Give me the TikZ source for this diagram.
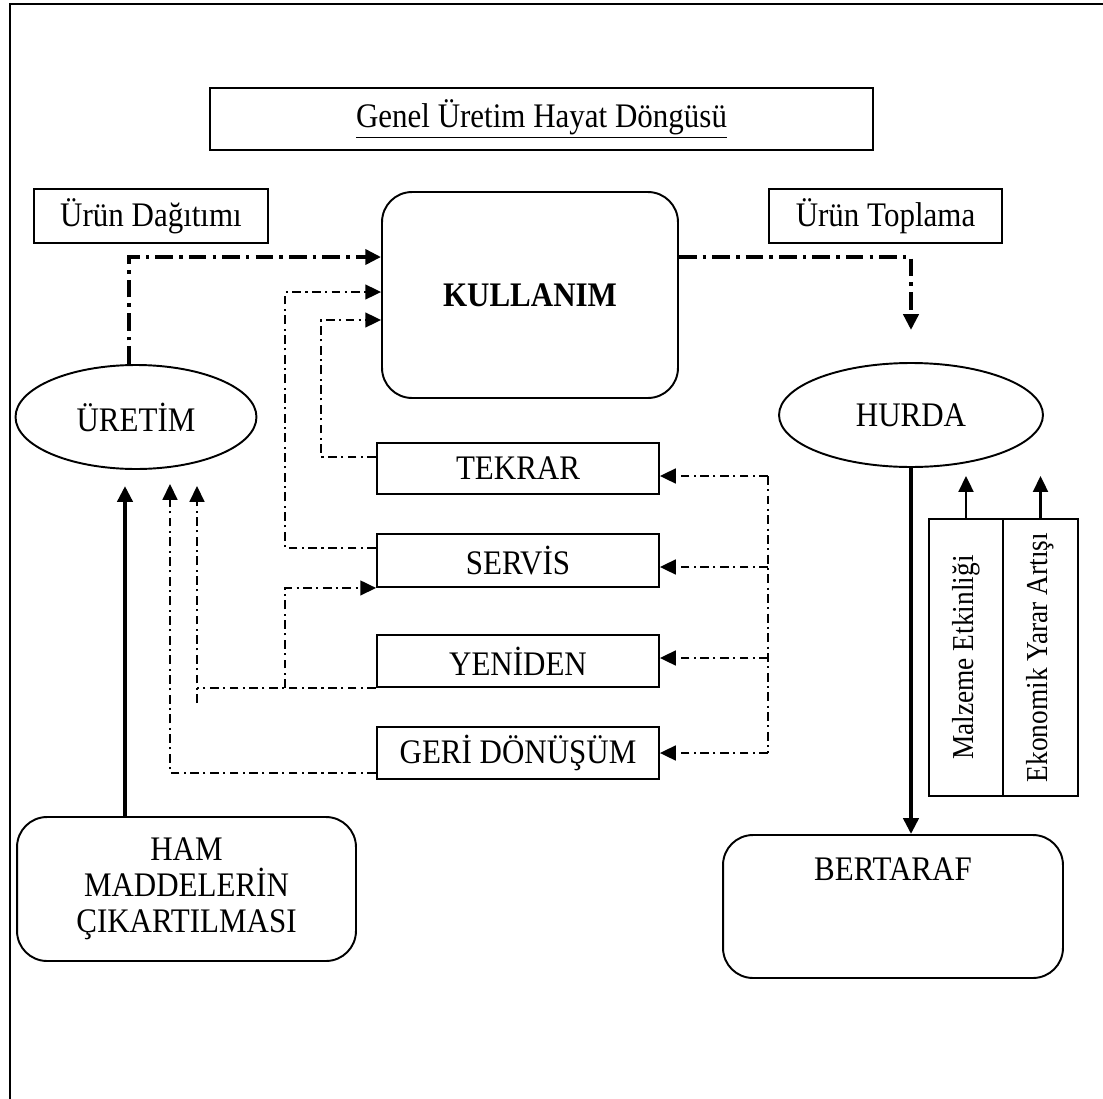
\documentclass[tikz,border=0pt]{standalone}
\usepackage{fontspec}
\setmainfont{Liberation Serif}[FakeStretch=0.9]
\usetikzlibrary{arrows.meta,shapes.geometric}
\newcommand{\diafont}{\fontsize{19.6pt}{20.5pt}\selectfont}
\newcommand{\sidefont}{\fontsize{17.3pt}{18pt}\selectfont}
\tikzset{
    box/.style={draw, line width=1.1pt, inner sep=0pt, minimum width=5.64cm, minimum height=1.04cm},
    roundbox/.style={box, rounded corners=0.6cm},
    oval/.style={draw, ellipse, line width=1.1pt, inner sep=0pt, minimum height=2.08cm},
    thicklink/.style={line width=2.3pt, dash pattern=on 10pt off 3.5pt on 2pt off 3.5pt},
    thinlink/.style={line width=0.9pt, dash pattern=on 5pt off 2.5pt on 1.2pt off 2.5pt},
    solidlink/.style={line width=2.3pt},
    arrowed/.style={-{Triangle[length=9pt,width=8.5pt]}}
}
\begin{document}
\begin{tikzpicture}[x=0.02cm, y=-0.02cm, font=\diafont]
    \useasboundingbox (0,0) rectangle (1103,1099);
    \draw[line width=1.7pt] (10,1099) -- (10,4) -- (1103,4);
    \node[box, minimum width=13.26cm, minimum height=1.24cm] (title) at (541.5,119) {\underline{Genel Üretim Hayat Döngüsü}};
    \node[box, minimum width=4.68cm, minimum height=1.08cm] (dagitim) at (151,216) {Ürün Dağıtımı};
    \node[box, minimum width=4.66cm, minimum height=1.08cm] (toplama) at (885.5,216) {Ürün Toplama};
    \node[roundbox, minimum width=5.92cm, minimum height=4.12cm, font=\diafont\bfseries] (kullanim) at (530,295) {KULLANIM};
    \node[oval, minimum width=4.82cm] (uretim) at (136,417) {ÜRETİM};
    \node[oval, minimum width=5.28cm] (hurda) at (911,415) {HURDA};
    \node[box, minimum height=1.02cm] (tekrar) at (518,468.5) {TEKRAR};
    \node[box, minimum height=1.06cm] (servis) at (518,560.5) {SERVİS};
    \node[box] (yeniden) at (518,661) {YENİDEN};
    \node[box] (geri) at (518,753) {GERİ DÖNÜŞÜM};
    \node[roundbox, minimum width=6.78cm, minimum height=2.88cm, align=center] (ham) at (186.5,889) {HAM\\MADDELERİN\\ÇIKARTILMASI};
    \node[roundbox, minimum width=6.8cm, minimum height=2.86cm,
        label={[anchor=north, yshift=-0.36cm]north:BERTARAF}] (bertaraf) at (893,906.5) {};
    \node[box, rotate=90, minimum width=5.54cm, minimum height=1.48cm, font=\sidefont] (malzeme) at (966,657.5) {Malzeme Etkinliği};
    \node[box, rotate=90, minimum width=5.54cm, minimum height=1.5cm, font=\sidefont] (ekonomik) at (1040.5,657.5) {Ekonomik Yarar Artışı};
    \coordinate (hurdain) at (911,330);
    \coordinate (geritip) at (170,484);
    \coordinate (yentip) at (197,486);
    \coordinate (yenfoot) at (197,703);
    \coordinate (hamtip) at (125,486);
    \coordinate (rail) at (768,0);
    \draw[thicklink, arrowed] ([xshift=-0.14cm]uretim.north) |- ([yshift=0.76cm]kullanim.west);
    \draw[thicklink, arrowed] ([yshift=0.76cm]kullanim.east) -| (hurdain);
    \draw[thinlink, arrowed] ([yshift=0.25cm]servis.west) -- ++(-91,0) |- ([yshift=0.06cm]kullanim.west);
    \draw[thinlink, arrowed] ([yshift=0.23cm]tekrar.west) -- ++(-55,0) |- ([yshift=-0.5cm]kullanim.west);
    \draw[thinlink, arrowed] ([yshift=-0.4cm]geri.west) -| (geritip);
    \draw[thinlink, arrowed] (yenfoot) -- (yentip);
    \draw[thinlink] (yeniden.south west) -- (yentip |- yeniden.south west);
    \draw[thinlink, arrowed] (yeniden.south west) ++(-91,0) |- (servis.south west);
    \draw[solidlink, arrowed] (ham.north -| hamtip) -- (hamtip);
    \draw[thinlink] ([yshift=-0.15cm]rail |- tekrar.east) -- (rail |- geri.east);
    \foreach \b/\s in {tekrar/-0.15cm,servis/-0.13cm,yeniden/0.06cm,geri/0cm}
        \draw[thinlink, arrowed] ([yshift=\s]rail |- \b.east) -- ([yshift=\s]\b.east);
    \draw[solidlink, arrowed] (hurda.south) -- (hurda.south |- bertaraf.north);
    \draw[line width=1.3pt, arrowed] (malzeme.east) -- ++(0,-42);
    \draw[line width=1.3pt, arrowed] (ekonomik.east) -- ++(0,-42);
\end{tikzpicture}
\end{document}
